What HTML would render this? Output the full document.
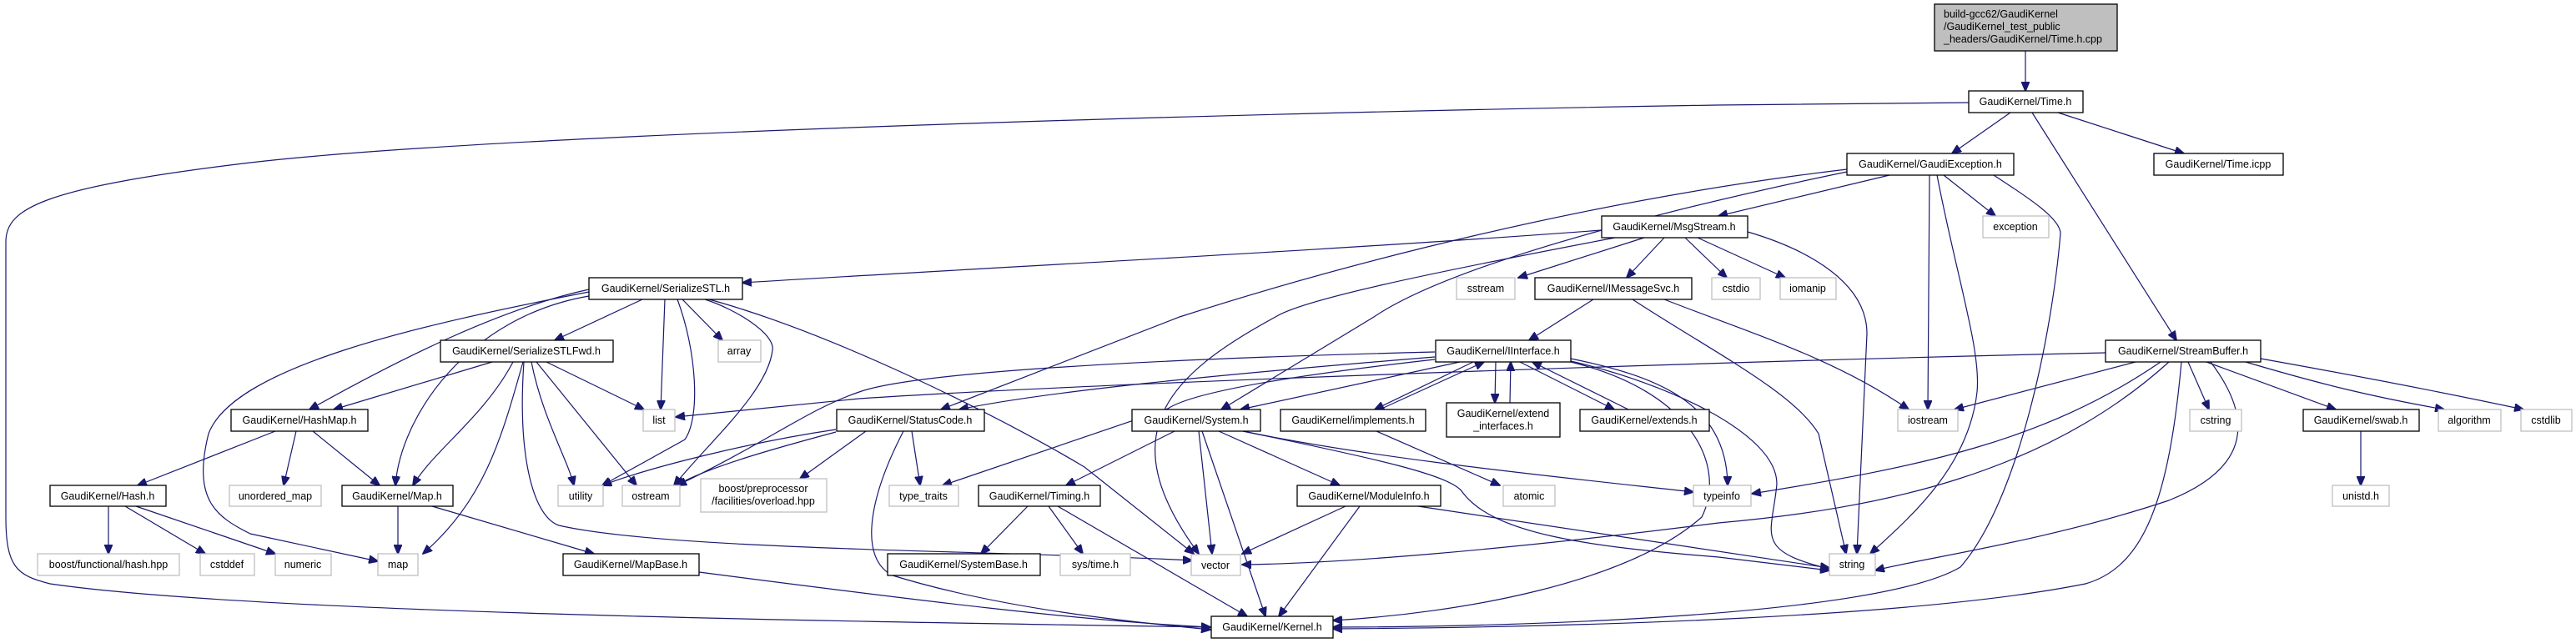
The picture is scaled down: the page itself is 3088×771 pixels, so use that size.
<!DOCTYPE html>
<html><head><meta charset="utf-8"><style>
html,body{margin:0;padding:0;background:#fff;}
svg{display:block;}
text{font-family:"Liberation Sans",Arial,sans-serif;font-size:12.5px;fill:#000;}
.n{fill:#fff;stroke:#000;stroke-width:1.3;}
.g{fill:#fff;stroke:#bfbfbf;stroke-width:1.3;}
.e{fill:none;stroke:#191970;stroke-width:1.2;marker-end:url(#a);}
</style></head><body>
<svg width="3088" height="771" viewBox="0 0 3088 771" xmlns="http://www.w3.org/2000/svg">
<defs><marker id="a" markerWidth="12" markerHeight="10" refX="11" refY="5" orient="auto" markerUnits="userSpaceOnUse"><path d="M0,0 L12,5 L0,10 z" fill="#191970" stroke="#191970"/></marker></defs>

<!-- edges -->
<path class="e" d="M2428,61 L2428,109"/>
<path class="e" d="M2410,135 L2340,184"/>
<path class="e" d="M2467,135 L2618,184"/>
<path class="e" d="M2436,135 L2609,408"/>
<path class="e" d="M2360,123 L2058,126 C1500,135 600,160 300,195 C50,225 7,250 7,290 L7,620 C7,680 20,690 60,700 C300,735 1000,745 1451,752"/>
<path class="e" d="M2265,210 L2060,259"/>
<path class="e" d="M2330,210 L2392,259"/>
<path class="e" d="M2313,210 L2311,491"/>
<path class="e" d="M2322,210 C2345,330 2375,420 2370,470 C2360,560 2290,620 2242,664"/>
<path class="e" d="M2390,210 C2420,230 2470,260 2470,280 C2460,400 2420,600 2350,680 C2250,740 1800,752 1598,752"/>
<path class="e" d="M2214,203 C1900,240 1600,320 1414,380 L1128,491"/>
<path class="e" d="M2214,206 C2050,240 1750,310 1647,380 L1464,491"/>
<path class="e" d="M1920,276 C1600,300 1200,320 890,339"/>
<path class="e" d="M1971,285 L1820,333"/>
<path class="e" d="M1995,285 L1950,333"/>
<path class="e" d="M2020,285 L2070,333"/>
<path class="e" d="M2035,285 L2140,333"/>
<path class="e" d="M2095,278 C2170,300 2238,340 2238,400 L2226,664"/>
<path class="e" d="M1936,285 C1700,330 1560,360 1529,380 C1400,450 1330,520 1437,664"/>
<path class="e" d="M770,359 L665,408"/>
<path class="e" d="M706,347 C600,370 480,430 371,491"/>
<path class="e" d="M706,355 C560,380 480,500 474,582"/>
<path class="e" d="M706,350 C500,390 280,440 250,520 C230,600 260,620 300,640 L453,673"/>
<path class="e" d="M797,359 L792,491"/>
<path class="e" d="M812,359 C835,420 840,500 821,527 L722,582"/>
<path class="e" d="M818,359 L866,408"/>
<path class="e" d="M845,359 C880,370 930,400 926,420 C920,470 850,530 808,582"/>
<path class="e" d="M850,359 C1000,400 1200,500 1300,560 L1431,664"/>
<path class="e" d="M590,434 L400,491"/>
<path class="e" d="M615,434 C580,500 520,540 495,582"/>
<path class="e" d="M627,434 C600,530 580,600 507,664"/>
<path class="e" d="M655,434 L772,491"/>
<path class="e" d="M637,434 C650,500 680,550 688,582"/>
<path class="e" d="M643,434 L763,582"/>
<path class="e" d="M628,434 C620,550 640,620 670,630 C800,660 1200,660 1429,672"/>
<path class="e" d="M330,517 L165,582"/>
<path class="e" d="M355,517 L340,582"/>
<path class="e" d="M375,517 L455,582"/>
<path class="e" d="M130,607 L130,664"/>
<path class="e" d="M150,607 L246,664"/>
<path class="e" d="M163,607 L330,664"/>
<path class="e" d="M477,607 L477,664"/>
<path class="e" d="M518,607 L712,664"/>
<path class="e" d="M838,686 C1100,720 1300,745 1451,752"/>
<path class="e" d="M1720,422 C1400,430 1100,445 1030,470 C970,490 920,530 812,582"/>
<path class="e" d="M1720,428 C1450,450 1250,470 1150,491"/>
<path class="e" d="M2524,423 C2000,435 1300,460 1030,478 L810,500"/>
<path class="e" d="M1720,431 C1550,450 1430,470 1400,490 L1130,582"/>
<path class="e" d="M1750,434 L1487,491"/>
<path class="e" d="M1766,434 L1648,491"/>
<path class="e" d="M1654,491 L1779,434"/>
<path class="e" d="M1793,434 L1792,483"/>
<path class="e" d="M1810,483 L1811,434"/>
<path class="e" d="M1822,434 L1935,491"/>
<path class="e" d="M1952,491 L1837,434"/>
<path class="e" d="M1883,430 C1980,450 2070,480 2071,582"/>
<path class="e" d="M1883,433 C2000,460 2130,520 2130,580 C2125,640 2100,660 2193,682"/>
<path class="e" d="M1883,434 C2030,470 2070,560 2040,620 C1950,700 1750,735 1598,744"/>
<path class="e" d="M1002,515 C900,530 780,560 722,582"/>
<path class="e" d="M1002,518 C920,540 850,560 810,582"/>
<path class="e" d="M1038,517 L959,574"/>
<path class="e" d="M1093,517 L1103,582"/>
<path class="e" d="M1083,517 C1040,600 1030,670 1070,690 C1200,730 1350,745 1451,755"/>
<path class="e" d="M1408,517 L1278,582"/>
<path class="e" d="M1437,517 L1453,664"/>
<path class="e" d="M1441,517 L1517,739"/>
<path class="e" d="M1461,517 L1606,582"/>
<path class="e" d="M1490,517 C1650,550 1850,570 2030,590"/>
<path class="e" d="M1490,517 C1650,550 1740,570 1753,590 C1790,640 1900,655 2060,668 L2193,684"/>
<path class="e" d="M1650,517 L1798,582"/>
<path class="e" d="M1232,607 L1176,664"/>
<path class="e" d="M1257,607 L1298,664"/>
<path class="e" d="M1268,607 L1495,739"/>
<path class="e" d="M1613,607 L1489,664"/>
<path class="e" d="M1630,607 L1533,739"/>
<path class="e" d="M1700,607 L2193,681"/>
<path class="e" d="M2560,434 L2343,491"/>
<path class="e" d="M2623,434 L2648,491"/>
<path class="e" d="M2645,434 L2800,491"/>
<path class="e" d="M2692,434 C2780,460 2840,475 2930,491"/>
<path class="e" d="M2710,430 C2850,455 2950,475 3025,491"/>
<path class="e" d="M2590,434 C2450,530 2300,560 2100,592"/>
<path class="e" d="M2600,434 C2450,570 2250,610 2060,627 C1800,660 1600,676 1489,677"/>
<path class="e" d="M2650,434 C2700,500 2700,560 2600,600 C2450,650 2300,670 2248,684"/>
<path class="e" d="M2615,434 C2600,600 2570,680 2500,700 C2300,740 1900,752 1598,754"/>
<path class="e" d="M2830,517 L2830,582"/>
<path class="e" d="M1910,359 L1833,408"/>
<path class="e" d="M1995,359 C2100,400 2200,430 2288,491"/>
<path class="e" d="M1957,359 C2050,420 2150,470 2180,520 L2213,664"/>

<!-- nodes -->
<rect x="2319" y="5" width="219" height="56" fill="#bfbfbf" stroke="#000" stroke-width="1.3"/>
<text x="2330" y="21">build-gcc62/GaudiKernel</text>
<text x="2330" y="36">/GaudiKernel_test_public</text>
<text x="2330" y="51">_headers/GaudiKernel/Time.h.cpp</text>

<g text-anchor="middle">
<rect class="n" x="2360" y="109" width="137" height="26"/><text x="2428" y="126">GaudiKernel/Time.h</text>
<rect class="n" x="2214" y="184" width="200" height="26"/><text x="2314" y="201">GaudiKernel/GaudiException.h</text>
<rect class="n" x="2582" y="184" width="155" height="26"/><text x="2659" y="201">GaudiKernel/Time.icpp</text>
<rect class="n" x="1920" y="259" width="175" height="26"/><text x="2007" y="276">GaudiKernel/MsgStream.h</text>
<rect class="g" x="2377" y="259" width="79" height="26"/><text x="2416" y="276">exception</text>
<rect class="n" x="706" y="333" width="184" height="26"/><text x="798" y="350">GaudiKernel/SerializeSTL.h</text>
<rect class="g" x="1746" y="333" width="70" height="26"/><text x="1781" y="350">sstream</text>
<rect class="n" x="1840" y="333" width="188" height="26"/><text x="1934" y="350">GaudiKernel/IMessageSvc.h</text>
<rect class="g" x="2052" y="333" width="58" height="26"/><text x="2081" y="350">cstdio</text>
<rect class="g" x="2134" y="333" width="67" height="26"/><text x="2167" y="350">iomanip</text>
<rect class="n" x="528" y="408" width="207" height="26"/><text x="631" y="425">GaudiKernel/SerializeSTLFwd.h</text>
<rect class="g" x="861" y="408" width="51" height="26"/><text x="886" y="425">array</text>
<rect class="n" x="1721" y="408" width="162" height="26"/><text x="1802" y="425">GaudiKernel/IInterface.h</text>
<rect class="n" x="2524" y="408" width="186" height="26"/><text x="2617" y="425">GaudiKernel/StreamBuffer.h</text>
<rect class="n" x="277" y="491" width="164" height="26"/><text x="359" y="508">GaudiKernel/HashMap.h</text>
<rect class="g" x="771" y="491" width="38" height="26"/><text x="790" y="508">list</text>
<rect class="n" x="1003" y="491" width="177" height="26"/><text x="1091" y="508">GaudiKernel/StatusCode.h</text>
<rect class="n" x="1357" y="491" width="154" height="26"/><text x="1434" y="508">GaudiKernel/System.h</text>
<rect class="n" x="1535" y="491" width="174" height="26"/><text x="1622" y="508">GaudiKernel/implements.h</text>
<rect class="n" x="1734" y="483" width="136" height="41"/><text x="1802" y="500">GaudiKernel/extend</text><text x="1802" y="515">_interfaces.h</text>
<rect class="n" x="1894" y="491" width="155" height="26"/><text x="1971" y="508">GaudiKernel/extends.h</text>
<rect class="g" x="2275" y="491" width="72" height="26"/><text x="2311" y="508">iostream</text>
<rect class="g" x="2625" y="491" width="62" height="26"/><text x="2656" y="508">cstring</text>
<rect class="n" x="2761" y="491" width="139" height="26"/><text x="2830" y="508">GaudiKernel/swab.h</text>
<rect class="g" x="2923" y="491" width="75" height="26"/><text x="2960" y="508">algorithm</text>
<rect class="g" x="3022" y="491" width="61" height="26"/><text x="3052" y="508">cstdlib</text>
<rect class="n" x="60" y="582" width="139" height="25"/><text x="129" y="599">GaudiKernel/Hash.h</text>
<rect class="g" x="275" y="582" width="110" height="25"/><text x="330" y="599">unordered_map</text>
<rect class="n" x="410" y="582" width="133" height="25"/><text x="476" y="599">GaudiKernel/Map.h</text>
<rect class="g" x="669" y="582" width="54" height="25"/><text x="696" y="599">utility</text>
<rect class="g" x="746" y="582" width="69" height="25"/><text x="780" y="599">ostream</text>
<rect class="g" x="840" y="574" width="151" height="40"/><text x="915" y="590">boost/preprocessor</text><text x="915" y="605">/facilities/overload.hpp</text>
<rect class="g" x="1066" y="582" width="83" height="25"/><text x="1107" y="599">type_traits</text>
<rect class="n" x="1173" y="582" width="146" height="25"/><text x="1246" y="599">GaudiKernel/Timing.h</text>
<rect class="n" x="1555" y="582" width="172" height="25"/><text x="1641" y="599">GaudiKernel/ModuleInfo.h</text>
<rect class="g" x="1802" y="582" width="62" height="25"/><text x="1833" y="599">atomic</text>
<rect class="g" x="2030" y="582" width="69" height="25"/><text x="2064" y="599">typeinfo</text>
<rect class="g" x="2796" y="582" width="68" height="25"/><text x="2830" y="599">unistd.h</text>
<rect class="g" x="45" y="664" width="170" height="26"/><text x="130" y="681">boost/functional/hash.hpp</text>
<rect class="g" x="240" y="664" width="65" height="26"/><text x="272" y="681">cstddef</text>
<rect class="g" x="330" y="664" width="67" height="26"/><text x="363" y="681">numeric</text>
<rect class="g" x="453" y="664" width="48" height="26"/><text x="477" y="681">map</text>
<rect class="n" x="675" y="664" width="163" height="26"/><text x="756" y="681">GaudiKernel/MapBase.h</text>
<rect class="n" x="1064" y="664" width="183" height="26"/><text x="1155" y="681">GaudiKernel/SystemBase.h</text>
<rect class="g" x="1271" y="664" width="84" height="26"/><text x="1313" y="681">sys/time.h</text>
<rect class="g" x="1428" y="665" width="59" height="25"/><text x="1457" y="682">vector</text>
<rect class="g" x="2193" y="664" width="55" height="26"/><text x="2220" y="681">string</text>
<rect class="n" x="1452" y="739" width="146" height="26"/><text x="1525" y="756">GaudiKernel/Kernel.h</text>
</g>
</svg>
</body></html>
